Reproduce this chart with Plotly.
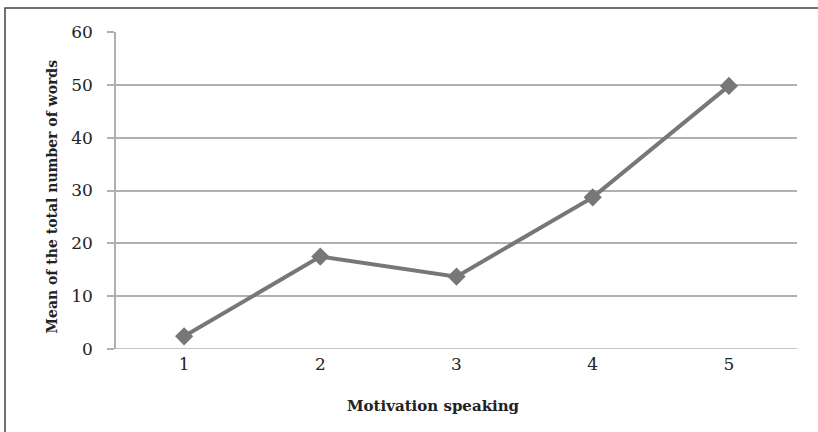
import plotly.graph_objects as go

categories = [1, 2, 3, 4, 5]
mean_words = [2.4, 17.5, 13.7, 28.7, 49.8]
y_ticks = [0, 10, 20, 30, 40, 50, 60]
x_title = "Motivation speaking"
y_title = "Mean of the total number of words"

L, R, T, B = 116, 21, 32, 83
W, H = 818, 432
pw, ph = W - L - R, H - T - B

fig = go.Figure()
fig.add_trace(go.Scatter(
    x=categories, y=mean_words, mode="lines+markers",
    line=dict(color="#777777", width=4),
    marker=dict(symbol="diamond", size=14, color="#777777"),
    showlegend=False, hoverinfo="skip",
))

font_family = "DejaVu Serif"
grid = "#b0b0b0"
fig.update_layout(
    width=W, height=H,
    margin=dict(l=L, r=R, t=T, b=B),
    paper_bgcolor="white", plot_bgcolor="white",
    font=dict(family=font_family, color="#222222", size=17),
    xaxis=dict(
        range=[0.5, 5.5], tickvals=categories, ticktext=[str(c) for c in categories],
        showgrid=False, zeroline=False, showline=False, ticks="",
        tickfont=dict(size=17, color="#222222"), ticklabelstandoff=3,
    ),
    yaxis=dict(
        range=[0, 60], tickvals=y_ticks, showgrid=True, gridcolor=grid, gridwidth=1.5,
        zeroline=False, showline=True, linecolor=grid, linewidth=1.5,
        ticks="outside", ticklen=7, tickcolor=grid, tickwidth=1.5,
        tickfont=dict(size=17, color="#222222"), ticklabelstandoff=11,
    ),
    annotations=[
        dict(text="<b>%s</b>" % x_title, xref="paper", yref="paper",
             x=(433 - L) / pw, y=(H - B - 406) / ph, xanchor="center", yanchor="middle",
             showarrow=False, font=dict(size=15, color="#222222")),
        dict(text="<b>%s</b>" % y_title, xref="paper", yref="paper",
             x=(51 - L) / pw, y=(H - B - 196.5) / ph, xanchor="center", yanchor="middle",
             textangle=-90, showarrow=False, font=dict(size=14, color="#222222")),
    ],
)
# x-axis baseline (gridline at 0)
fig.add_shape(type="line", xref="paper", yref="y", x0=-7/pw, x1=1, y0=0, y1=0,
              line=dict(color=grid, width=1.5))
# outer chart border
fig.add_shape(type="rect", xref="paper", yref="paper",
              x0=(5 - L) / pw, x1=1.5, y0=-1.0, y1=(H - B - 8) / ph,
              line=dict(color="#444444", width=1.5), fillcolor="rgba(0,0,0,0)", layer="below")

fig.write_html("out.html", config={"displayModeBar": False},
               post_script="document.body.style.margin='0';")
